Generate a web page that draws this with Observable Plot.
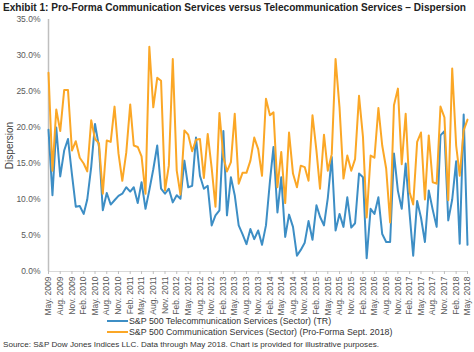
<!DOCTYPE html>
<html>
<head>
<meta charset="utf-8">
<script src="https://cdn.jsdelivr.net/npm/d3@7"></script>
<script src="https://cdn.jsdelivr.net/npm/@observablehq/plot@0.6"></script>
<style>
  html, body { margin: 0; padding: 0; background: #fff; }
  #wrap { position: relative; width: 474px; height: 352px; overflow: hidden; font-family: "Liberation Sans", Arial, sans-serif; }
  #title, #chart, #foot { position: absolute; left: 0; }
  #title { top: 0; }
  #chart { top: 14px; }
  #foot { top: 312px; }
  g[aria-label="y-axis label"] text { font-size: 10px; fill: #404040; }
</style>
</head>
<body>
<div id="wrap">
  <div id="chart"></div>
  <svg id="title" width="474" height="14"></svg>
  <svg id="foot" width="474" height="40"></svg>
</div>
<script>
// ---- Data (monthly, May 2009 - May 2018), dispersion in % ----
const startYear = 2009, startMonth = 4; // May 2009
const telecom = [
  19.7, 10.6, 20.0, 13.2, 16.8, 18.4, 13.5, 9.0, 9.1, 8.0,
  10.0, 14.5, 20.5, 17.3, 8.5, 10.9, 9.3, 9.9, 10.5, 10.8,
  11.7, 11.1, 11.7, 9.5, 12.4, 8.7, 11.3, 14.2, 17.5, 11.5,
  10.8, 11.5, 9.6, 10.6, 10.1, 15.4, 11.7, 11.9, 18.6, 13.3,
  11.5, 11.9, 6.4, 7.8, 8.5, 19.5, 7.8, 13.1, 10.6, 6.4,
  5.2, 3.8, 5.9, 4.5, 5.7, 3.7, 6.4, 12.5, 17.3, 8.2,
  13.1, 4.8, 7.9, 6.2, 2.2, 3.0, 4.0, 7.0, 4.4, 9.2,
  7.6, 6.4, 10.2, 15.9, 5.7, 8.0, 6.2, 10.3, 6.1, 6.7,
  13.6, 13.1, 1.85, 8.7, 8.0, 10.3, 5.2, 4.1, 4.1, 16.4,
  11.2, 8.7, 15.0, 8.0, 2.2, 9.8, 7.5, 4.1, 11.25, 8.6,
  6.2, 18.9, 19.5, 7.1, 10.0, 15.3, 3.85, 21.8, 3.7
];
const commServices = [
  27.6, 14.0, 22.5, 19.5, 25.2, 25.2, 16.8, 18.1, 15.8, 15.0,
  13.9, 21.0, 18.4, 17.8, 10.8, 18.2, 18.0, 22.9, 16.4, 12.6,
  16.5, 23.2, 17.5, 17.3, 16.0, 10.8, 31.2, 22.8, 26.9, 26.5,
  11.25, 14.7, 29.5, 14.0, 10.7, 19.6, 19.0, 16.7, 18.3, 18.4,
  13.0, 19.1, 14.4, 9.0, 22.0, 15.9, 13.9, 15.2, 21.9, 12.2,
  13.7, 13.7, 15.4, 18.6, 17.0, 13.3, 24.0, 21.7, 22.1, 11.7,
  16.6, 9.5, 19.3, 13.6, 11.7, 14.7, 14.5, 12.6, 21.7, 16.8,
  11.5, 19.0, 14.0, 16.3, 29.5, 22.8, 12.9, 16.1, 14.0, 15.6,
  24.4, 18.7, 7.5, 16.1, 15.8, 22.7, 17.5, 14.3, 6.8, 23.1,
  25.4, 14.9, 21.9, 11.0, 9.3, 18.0, 19.3, 10.0, 18.9, 12.4,
  12.2, 22.9, 21.4, 9.9, 28.2, 17.5, 13.3, 19.6, 21.1
];
const yTicks = [0, 5, 10, 15, 20, 25, 30, 35];
const seriesNames = [
  "S&P 500 Telecommunication Services (Sector) (TR)",
  "S&P 500 Communication Services (Sector) (Pro-Forma Sept. 2018)"
];
const titleText = "Exhibit 1: Pro-Forma Communication Services versus Telecommunication Services \u2013 Dispersion";
const sourceText = "Source: S&P Dow Jones Indices LLC. Data through May 2018. Chart is provided for illustrative purposes.";
const yLabel = "Dispersion";

const BLUE = "#3d8ec5", ORANGE = "#fba726";

const dates = telecom.map((_, i) => new Date(Date.UTC(startYear, startMonth + i, 1)));
const rows = dates.map((d, i) => ({date: d, tele: telecom[i], comm: commServices[i]}));
const tickDates = dates.filter((_, i) => i % 3 === 0);
const fmt = d3.utcFormat("%b. %Y");

const chart = Plot.plot({
  width: 474,
  height: 310,
  marginLeft: 48,
  marginRight: 7,
  marginTop: 5,
  marginBottom: 53,
  style: {fontFamily: "'Liberation Sans', Arial, sans-serif", fontSize: "8.5px", color: "#595959", background: "transparent"},
  x: {type: "utc", domain: [dates[0], dates[dates.length - 1]]},
  y: {domain: [0, 35]},
  marks: [
    Plot.ruleY([0], {stroke: "#d9d9d9", strokeWidth: 1}),
    Plot.ruleX([dates[0]], {stroke: "#bfbfbf", strokeWidth: 1.5}),
    Plot.axisY({ticks: yTicks, tickFormat: d => d.toFixed(1) + "%", tickSize: 0, tickPadding: 8,
      label: yLabel, labelAnchor: "center", labelArrow: "none", labelOffset: 43, fill: "#595959"}),
    Plot.axisX({ticks: tickDates, tickFormat: fmt, tickRotate: -90, tickSize: 3, tickPadding: 2,
      label: null, stroke: "#bfbfbf", fill: "#595959"}),
    Plot.lineY(rows, {x: "date", y: "tele", stroke: BLUE, strokeWidth: 2, strokeLinejoin: "round"}),
    Plot.lineY(rows, {x: "date", y: "comm", stroke: ORANGE, strokeWidth: 2, strokeLinejoin: "round"})
  ]
});
document.getElementById("chart").appendChild(chart);

const NS = "http://www.w3.org/2000/svg";
function addText(svg, txt, x, y, opts) {
  const t = document.createElementNS(NS, "text");
  t.setAttribute("x", x); t.setAttribute("y", y);
  for (const k in opts) t.setAttribute(k, opts[k]);
  t.textContent = txt;
  svg.appendChild(t);
  return t;
}
const title = document.getElementById("title");
addText(title, titleText, 3, 10.5, {"font-family": "'Liberation Sans', Arial, sans-serif", "font-weight": "bold",
  "font-size": "10", "fill": "#222", "textLength": 463, "lengthAdjust": "spacingAndGlyphs"});

const foot = document.getElementById("foot");
const legendColors = [BLUE, ORANGE];
seriesNames.forEach((name, i) => {
  const cy = 9 + i * 11;
  const l = document.createElementNS(NS, "line");
  l.setAttribute("x1", 107); l.setAttribute("x2", 128);
  l.setAttribute("y1", cy); l.setAttribute("y2", cy);
  l.setAttribute("stroke", legendColors[i]); l.setAttribute("stroke-width", 2);
  foot.appendChild(l);
  addText(foot, name, 129, cy + 3, {"font-family": "'Liberation Sans', Arial, sans-serif", "font-size": "8.8", "fill": "#333"});
});
addText(foot, sourceText, 3, 35, {"font-family": "'Liberation Sans', Arial, sans-serif", "font-size": "8.1", "fill": "#333"});
</script>
</body>
</html>
